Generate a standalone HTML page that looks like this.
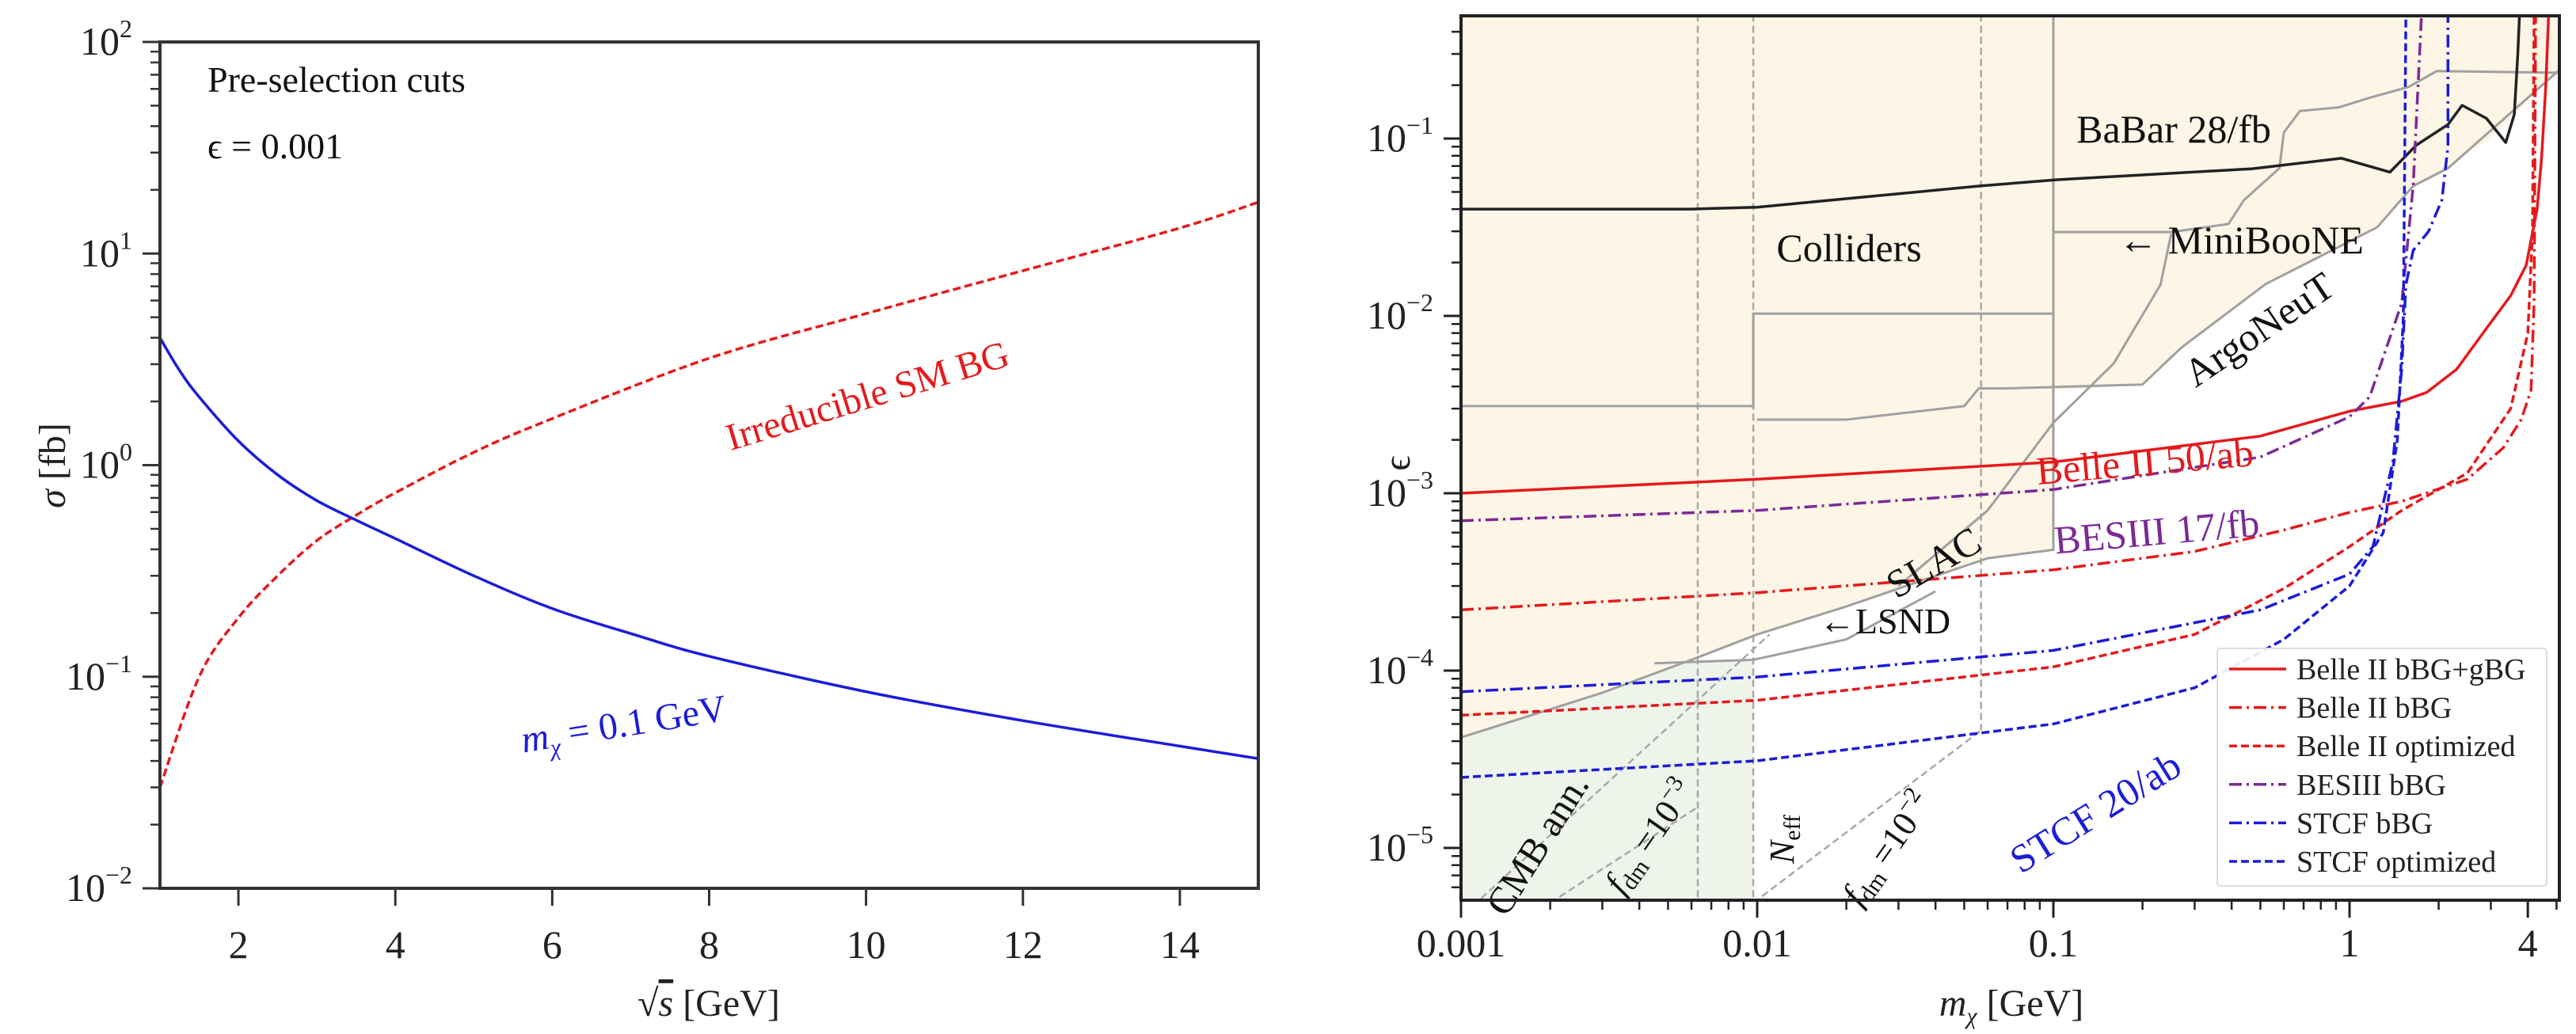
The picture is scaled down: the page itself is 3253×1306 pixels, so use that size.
<!DOCTYPE html>
<html><head><meta charset="utf-8"><style>
html,body{margin:0;padding:0;background:#fff;}
svg{display:block;font-family:"Liberation Serif",serif;}
</style></head><body>
<svg id="fig" width="3253" height="1306" viewBox="0 0 3253 1306" xmlns="http://www.w3.org/2000/svg">
<g id="left"></g>
<g id="right"></g>
</svg>
<script>
// ---------- LEFT PANEL DATA ----------
const sqrtsBG = [1, 1.5, 2, 2.5, 3, 3.5, 4, 5, 6, 8, 10, 12, 14, 15];
const sigmaBG = [0.03, 0.1, 0.19, 0.3, 0.44, 0.58, 0.74, 1.15, 1.66, 3.2, 5.2, 8.3, 13.2, 17.5];
const sqrtsSig = [1, 1.25, 1.5, 2, 2.5, 3, 3.5, 4, 5, 6, 7, 8, 10, 12, 14, 15];
const sigmaSig = [4, 2.8, 2.1, 1.3, 0.9, 0.68, 0.55, 0.45, 0.3, 0.21, 0.16, 0.125, 0.085, 0.062, 0.047, 0.041];
const leftXTicks = [2, 4, 6, 8, 10, 12, 14];
const leftYExps = [2, 1, 0, -1, -2];

// ---------- RIGHT PANEL DATA ----------
const babarM = [0.001, 0.006, 0.01, 0.0564, 0.103, 0.47, 0.94, 1.37, 1.68, 2.15, 2.4, 2.9, 3.37, 3.6, 3.7, 3.75];
const babarE = [0.04, 0.04, 0.041, 0.054, 0.0586, 0.0676, 0.0774, 0.0647, 0.0917, 0.12, 0.154, 0.13, 0.095, 0.137, 0.3, 0.5];
const belleSolidM = [0.001, 0.01, 0.1, 0.5, 1, 1.5, 1.82, 2.3, 2.93, 3.5, 3.95, 4.3, 4.45, 4.6, 4.7];
const belleSolidE = [1e-3, 1.2e-3, 1.5e-3, 2.1e-3, 2.9e-3, 3.3e-3, 3.7e-3, 5e-3, 8.7e-3, 0.013, 0.0193, 0.04, 0.077, 0.2, 0.5];
const belleBBGM = [0.001, 0.01, 0.1, 0.3, 0.6, 1, 1.5, 2.5, 3.3, 3.8, 4.1, 4.2, 4.25];
const belleBBGE = [2.2e-4, 2.75e-4, 3.7e-4, 4.7e-4, 6.2e-4, 7.8e-4, 9e-4, 1.2e-3, 1.8e-3, 2.6e-3, 3.8e-3, 0.012, 0.5];
const belleOptM = [0.001, 0.01, 0.1, 0.3, 0.6, 1, 1.5, 2.5, 3.5, 4, 4.15, 4.2];
const belleOptE = [5.6e-5, 6.8e-5, 1.05e-4, 1.6e-4, 2.9e-4, 5e-4, 8e-4, 1.3e-3, 3e-3, 8e-3, 0.03, 0.5];
const besM = [0.001, 0.01, 0.1, 0.5, 1, 1.17, 1.5, 1.64, 1.75];
const besE = [7e-4, 8e-4, 1.05e-3, 1.6e-3, 2.7e-3, 3.5e-3, 0.0118, 0.054, 0.5];
const stcfBBGM = [0.001, 0.01, 0.1, 0.5, 1, 1.2, 1.4, 1.5, 1.55, 1.64, 1.85, 2.05, 2.15, 2.15];
const stcfBBGE = [7.6e-5, 9.2e-5, 1.3e-4, 2.2e-4, 3.5e-4, 5e-4, 1.5e-3, 5e-3, 0.015, 0.0234, 0.03, 0.045, 0.09, 0.5];
const stcfOptM = [0.001, 0.01, 0.1, 0.3, 0.6, 1, 1.3, 1.45, 1.52, 1.55];
const stcfOptE = [2.5e-5, 3.1e-5, 5e-5, 8e-5, 1.5e-4, 3e-4, 6e-4, 2e-3, 0.01, 0.5];
const collM = [0.001, 0.0097, 0.0097, 0.1, 0.1, 0.25, 0.39, 0.44, 0.58, 0.6, 0.68, 0.92, 1.17, 1.58, 1.97, 5.2];
const collE = [3.1e-3, 3.1e-3, 0.0103, 0.0103, 0.0297, 0.0297, 0.033, 0.045, 0.068, 0.108, 0.143, 0.15, 0.17, 0.195, 0.24, 0.235];
const argoM = [0.01, 0.02, 0.05, 0.056, 0.068, 0.2, 0.27, 0.52, 1.24, 1.64, 2.15, 5.2];
const argoE = [2.6e-3, 2.6e-3, 3.1e-3, 3.9e-3, 3.9e-3, 4.1e-3, 6.6e-3, 0.0151, 0.0316, 0.054, 0.068, 0.25];
const miniM = [0.03, 0.06, 0.1, 0.16, 0.23, 0.25];
const miniE = [3e-4, 8e-4, 2.5e-3, 5.4e-3, 0.015, 0.029];
const slacM = [0.001, 0.003, 0.006, 0.01, 0.02, 0.03, 0.06, 0.1, 0.1];
const slacE = [4.2e-5, 7.5e-5, 1.15e-4, 1.6e-4, 2.3e-4, 2.9e-4, 4.3e-4, 4.8e-4, 0.5];
const lsndM = [0.0045, 0.0097, 0.02, 0.04];
const lsndE = [1.1e-4, 1.15e-4, 1.5e-4, 2.8e-4];
const shadeM = [0.001, 5.2, 5.2, 3.0, 2.15, 1.64, 1.24, 0.52, 0.27, 0.2, 0.1, 0.1, 0.06, 0.03, 0.01, 0.006, 0.003, 0.001];
const shadeE = [0.5, 0.5, 0.25, 0.1, 0.068, 0.054, 0.0316, 0.0151, 6.6e-3, 4.1e-3, 3.8e-3, 4.8e-4, 4.3e-4, 2.9e-4, 1.6e-4, 1.15e-4, 7.5e-5, 4.2e-5];
const cmbM = [0.001, 0.001, 0.006, 0.0097, 0.0097];
const cmbE = [4.9e-6, 4.2e-5, 1.12e-4, 1.15e-4, 4.9e-6];
const vLinesM = [0.0063, 0.0097, 0.057];
const vLinesTopE = [0.5, 0.5, 0.5];
const vLinesBotE = [4.9e-6, 4.9e-6, 4.6e-5];
const diagM1 = [0.00117, 0.011]; const diagE1 = [5.2e-6, 1.6e-4];
const diagM2 = [0.002, 0.0063]; const diagE2 = [4.9e-6, 1.7e-5];
const diagM3 = [0.0097, 0.057]; const diagE3 = [4.9e-6, 4.6e-5];
const rightXTicks = [0.001, 0.01, 0.1, 1, 4];
const rightXLabels = ["0.001", "0.01", "0.1", "1", "4"];
const rightYExps = [-1, -2, -3, -4, -5];

// ---------- GEOMETRY ----------
const L = {x0:202, x1:1589, y0:53, y1:1122, xmin:1, xmax:15, lmin:-2, lmax:2};
const R = {x0:1845, x1:3232, y0:20, y1:1137, dec:374, ydec:224};
function lx(s){return L.x0+(s-L.xmin)/(L.xmax-L.xmin)*(L.x1-L.x0);}
function ly(v){return L.y1-(Math.log10(v)-L.lmin)/(L.lmax-L.lmin)*(L.y1-L.y0);}
function rx(m){return R.x0+R.dec*Math.log10(m/0.001);}
function ry(e){return 175-R.ydec*(Math.log10(e)+1);}

const NS="http://www.w3.org/2000/svg";
function mk(parent,tag,attrs){const el=document.createElementNS(NS,tag);for(const k in attrs)el.setAttribute(k,attrs[k]);parent.appendChild(el);return el;}
function pathD(xs,ys,fx,fy){return xs.map((v,i)=>(i?'L':'M')+fx(v).toFixed(1)+' '+fy(ys[i]).toFixed(1)).join(' ');}
function smoothD(xs,ys,fx,fy){
  const p=xs.map((v,i)=>[fx(v),fy(ys[i])]);
  let d='M'+p[0][0]+' '+p[0][1];
  for(let i=0;i<p.length-1;i++){const p0=p[i-1]||p[i],p1=p[i],p2=p[i+1],p3=p[i+2]||p2;
    const c1=[p1[0]+(p2[0]-p0[0])/6,p1[1]+(p2[1]-p0[1])/6],c2=[p2[0]-(p3[0]-p1[0])/6,p2[1]-(p3[1]-p1[1])/6];
    d+=` C${c1[0].toFixed(1)} ${c1[1].toFixed(1)} ${c2[0].toFixed(1)} ${c2[1].toFixed(1)} ${p2[0].toFixed(1)} ${p2[1].toFixed(1)}`;}
  return d;}
function txt(parent,x,y,str,size,attrs){const t=mk(parent,'text',Object.assign({x:x,y:y,'font-size':size},attrs||{}));t.innerHTML=str;return t;}

// ---------- LEFT PANEL ----------
const lg=document.getElementById('left');
const lclip=mk(lg,'clipPath',{id:'lclip'});mk(lclip,'rect',{x:L.x0,y:L.y0,width:L.x1-L.x0,height:L.y1-L.y0});
let el;
el=mk(lg,'path',{d:smoothD(sqrtsBG,sigmaBG,lx,ly),fill:'none',stroke:'#e41a1c','stroke-width':3.5,'stroke-dasharray':'10,5','clip-path':'url(#lclip)'});


el=mk(lg,'path',{d:smoothD(sqrtsSig,sigmaSig,lx,ly),fill:'none',stroke:'#1c1cd8','stroke-width':3.5,'clip-path':'url(#lclip)'});


el=mk(lg,'rect',{x:L.x0,y:L.y0,width:L.x1-L.x0,height:L.y1-L.y0,fill:'none',stroke:'#333','stroke-width':4});


leftXTicks.forEach(v=>{const x=lx(v);mk(lg,'line',{x1:x,y1:L.y1,x2:x,y2:L.y1+22,stroke:'#333','stroke-width':3});
  el=txt(lg,x,1210,String(v),50,{'text-anchor':'middle',fill:'#222'});
  
  });
leftYExps.forEach(e=>{const y=ly(Math.pow(10,e));mk(lg,'line',{x1:L.x0-22,y1:y,x2:L.x0,y2:y,stroke:'#333','stroke-width':3});
  if(e>L.lmin){for(let k=2;k<=9;k++){const yy=ly(k*Math.pow(10,e-1));mk(lg,'line',{x1:L.x0-12,y1:yy,x2:L.x0,y2:yy,stroke:'#333','stroke-width':2.5});}}
  el=txt(lg,L.x0-35,y+16,'10<tspan font-size="32" dy="-22">'+(e<0?'−'+(-e):e)+'</tspan>',50,{'text-anchor':'end',fill:'#222'});
  
  });
el=txt(lg,895,1283,'√<tspan text-decoration="overline" font-style="italic">s</tspan> [GeV]',48,{'text-anchor':'middle',fill:'#222'});


el=txt(lg,0,0,'<tspan font-style="italic">σ</tspan> [fb]',48,{'text-anchor':'middle',fill:'#222',transform:'translate(82,588) rotate(-90)'});


el=txt(lg,262,116,'Pre-selection cuts',46,{fill:'#111'});


el=txt(lg,262,200,'ϵ = 0.001',46,{fill:'#111'});


el=txt(lg,0,0,'Irreducible SM BG',48,{fill:'#e41a1c','text-anchor':'middle',transform:'translate(1100,515) rotate(-17)'});


el=txt(lg,0,0,'<tspan font-style="italic">m<tspan font-size="30" dy="10">χ</tspan></tspan><tspan dy="-10"> = 0.1 GeV</tspan>',48,{fill:'#1c1cd8','text-anchor':'middle',transform:'translate(790,930) rotate(-9)'});



// ---------- RIGHT PANEL ----------
const rg=document.getElementById('right');
const rclip=mk(rg,'clipPath',{id:'rclip'});mk(rclip,'rect',{x:R.x0,y:R.y0,width:R.x1-R.x0,height:R.y1-R.y0});
const body=mk(rg,'g',{'clip-path':'url(#rclip)'});
el=mk(body,'path',{d:pathD(shadeM,shadeE,rx,ry)+'Z',fill:'#fdf5e6',stroke:'none'});


el=mk(body,'path',{d:pathD(cmbM,cmbE,rx,ry)+'Z',fill:'#eef4ea',stroke:'none'});


vLinesM.forEach((m,i)=>{el=mk(body,'line',{x1:rx(m),y1:ry(vLinesTopE[i]),x2:rx(m),y2:ry(vLinesBotE[i]),stroke:'#a8a8a8','stroke-width':2.5,'stroke-dasharray':'9,5'});
  
  });
[[diagM1,diagE1],[diagM2,diagE2],[diagM3,diagE3]].forEach(p=>{el=mk(body,'path',{d:pathD(p[0],p[1],rx,ry),fill:'none',stroke:'#a8a8a8','stroke-width':2.5,'stroke-dasharray':'9,5'});
  
  });
[[collM,collE,'colliders-bound'],[argoM,argoE,'argoneut-bound'],[miniM,miniE,'miniboone-bound'],[slacM,slacE,'slac-bound'],[lsndM,lsndE,'lsnd-bound']].forEach(p=>{
  el=mk(body,'path',{d:pathD(p[0],p[1],rx,ry),fill:'none',stroke:'#a0a0a0','stroke-width':3});
  
  });
const series=[
 [babarM,babarE,'#222','none','babar-curve'],
 [belleSolidM,belleSolidE,'#e41a1c','none','belle2-bbg-gbg-curve'],
 [belleBBGM,belleBBGE,'#e41a1c','16,6,3,6','belle2-bbg-curve'],
 [belleOptM,belleOptE,'#e41a1c','10,5','belle2-optimized-curve'],
 [besM,besE,'#7b2a96','16,6,3,6','besiii-bbg-curve'],
 [stcfBBGM,stcfBBGE,'#1c1cd8','16,6,3,6','stcf-bbg-curve'],
 [stcfOptM,stcfOptE,'#1c1cd8','10,5','stcf-optimized-curve']];
series.forEach(s=>{el=mk(body,'path',{d:pathD(s[0],s[1],rx,ry),fill:'none',stroke:s[2],'stroke-width':3.5,'stroke-dasharray':s[3],'stroke-linejoin':'round'});
  
  });
// labels
function lab(str,x,y,size,color,rot,name,anchor){el=txt(rg,0,0,str,size,{fill:color,'text-anchor':anchor||'middle',transform:`translate(${x},${y}) rotate(${rot})`});
  
  }
lab('BaBar 28/fb',2745,180,50,'#111',0,'babar-label');
lab('← MiniBooNE',2830,320,50,'#111',0,'miniboone-label');
lab('ArgoNeuT',2862,430,50,'#111',-34,'argoneut-label');
lab('Colliders',2335,330,50,'#111',0,'colliders-label');
lab('Belle II 50/ab',2710,600,50,'#e41a1c',-5,'belle2-label');
lab('BESIII 17/fb',2725,688,50,'#7b2a96',-5,'besiii-label');
lab('SLAC',2450,725,50,'#111',-30,'slac-label');
lab('←LSND',2380,800,46,'#111',0,'lsnd-label');
lab('STCF 20/ab',2655,1040,50,'#1c1cd8',-32,'stcf-label');
lab('CMB ann.',1955,1075,48,'#111',-58,'cmb-label');
lab('<tspan font-style="italic">f</tspan><tspan font-size="30" dy="8">dm</tspan><tspan dy="-8"> =10</tspan><tspan font-size="30" dy="-18">−3</tspan>',2095,1065,44,'#111',-55,'fdm-1e-3-label');
lab('<tspan font-style="italic">N</tspan><tspan font-size="30" dy="8">eff</tspan>',2265,1060,44,'#111',-90,'neff-label');
lab('<tspan font-style="italic">f</tspan><tspan font-size="30" dy="8">dm</tspan><tspan dy="-8"> =10</tspan><tspan font-size="30" dy="-18">−2</tspan>',2395,1080,44,'#111',-55,'fdm-1e-2-label');
// frame & ticks
el=mk(rg,'rect',{x:R.x0,y:R.y0,width:R.x1-R.x0,height:R.y1-R.y0,fill:'none',stroke:'#222','stroke-width':4});


for(let d=-3;d<=0;d++){for(let k=1;k<=9;k++){const m=k*Math.pow(10,d);if(m<0.001||m>5.1)continue;const x=rx(m);const major=(k===1);
  mk(rg,'line',{x1:x,y1:R.y1,x2:x,y2:R.y1+(major?22:12),stroke:'#222','stroke-width':major?3:2.5});}}
rightXTicks.forEach((m,i)=>{const x=rx(m);if(m===4)mk(rg,'line',{x1:x,y1:R.y1,x2:x,y2:R.y1+22,stroke:'#222','stroke-width':3});
  el=txt(rg,x,1208,rightXLabels[i],50,{'text-anchor':'middle',fill:'#222'});
  
  });
rightYExps.forEach(e=>{const y=ry(Math.pow(10,e));mk(rg,'line',{x1:R.x0-22,y1:y,x2:R.x0,y2:y,stroke:'#222','stroke-width':3});
  el=txt(rg,R.x0-35,y+16,'10<tspan font-size="32" dy="-22">−'+(-e)+'</tspan>',50,{'text-anchor':'end',fill:'#222'});
  
  });
for(let d=-6;d<=-1;d++){for(let k=2;k<=9;k++){const y=ry(k*Math.pow(10,d));if(y<R.y0||y>R.y1)continue;mk(rg,'line',{x1:R.x0-12,y1:y,x2:R.x0,y2:y,stroke:'#222','stroke-width':2.5});}}
el=txt(rg,2540,1283,'<tspan font-style="italic">m<tspan font-size="30" dy="10">χ</tspan></tspan><tspan dy="-10"> [GeV]</tspan>',48,{'text-anchor':'middle',fill:'#222'});


el=txt(rg,0,0,'ϵ',48,{'text-anchor':'middle',fill:'#222',transform:'translate(1780,585) rotate(-90)'});


// legend
const leg=mk(rg,'g',{});


mk(leg,'rect',{x:2800,y:819,width:416,height:300,rx:4,fill:'#fff','fill-opacity':0.9,stroke:'#ddd','stroke-width':2});
const legNames=['Belle II bBG+gBG','Belle II bBG','Belle II optimized','BESIII bBG','STCF bBG','STCF optimized'];
legNames.forEach((n,i)=>{const y=845+i*48.6;const s=series[i+1];
  el=mk(leg,'line',{x1:2815,y1:y,x2:2887,y2:y,stroke:s[2],'stroke-width':3.5,'stroke-dasharray':s[3]});
  
  
  el=txt(leg,2900,y+13,n,38,{fill:'#222'});
  
  });
</script>
</body></html>
